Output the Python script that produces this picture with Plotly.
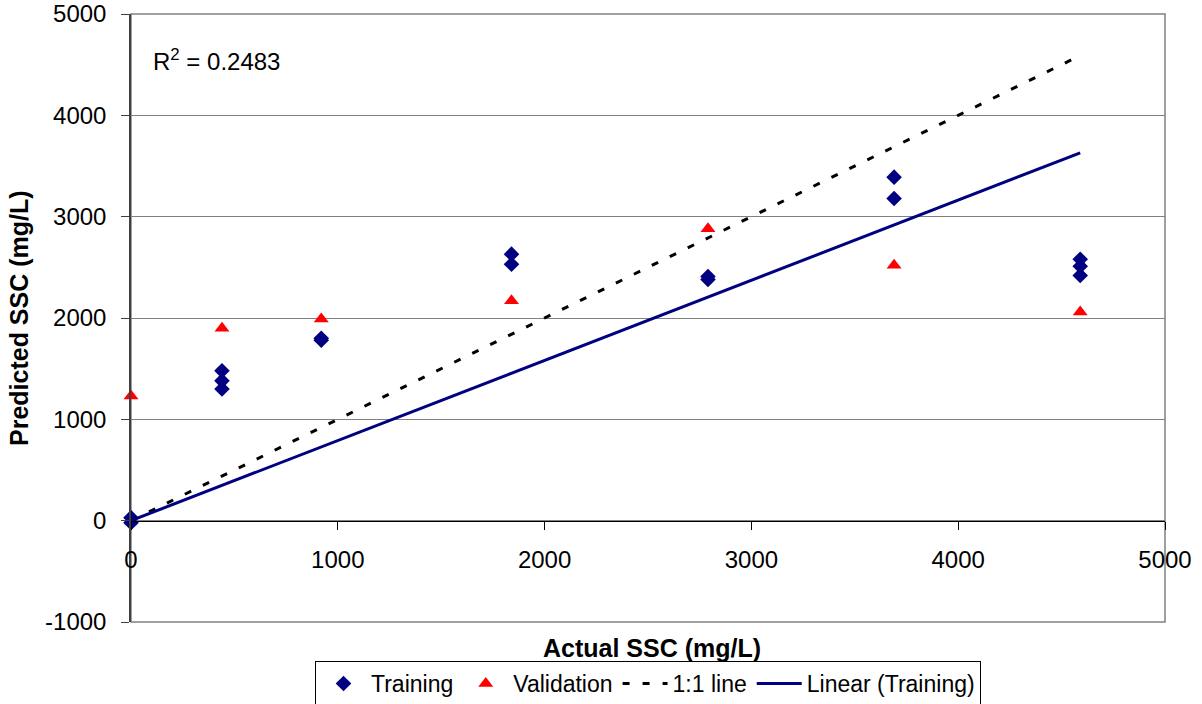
import plotly.graph_objects as go

# ---- data ----
train_x = [0, 0, 440, 440, 440, 920, 920, 1840, 1840, 2790, 2790, 3690, 3690, 4590, 4590, 4590]
train_y = [30, -20, 1480, 1380, 1300, 1800, 1780, 2630, 2530, 2410, 2380, 3390, 3180, 2580, 2510, 2420]

val_x = [0, 440, 920, 1840, 2790, 3690, 4590]
val_y = [1230, 1900, 1990, 2170, 2880, 2520, 2060]

one_x = [0, 4590]
one_y = [0, 4590]

trend_x = [0, 4590]
trend_y = [0, 3630]

x_ticks = [0, 1000, 2000, 3000, 4000, 5000]
y_ticks = [-1000, 0, 1000, 2000, 3000, 4000, 5000]
r2_text = "R<sup>2</sup> = 0.2483"

FONT = "Liberation Sans, Arial, sans-serif"
NAVY = "#000080"

W, H = 1202, 704

fig = go.Figure()
fig.add_trace(go.Scatter(
    x=train_x, y=train_y, mode="markers", name="Training",
    marker=dict(symbol="diamond", size=12, color=NAVY), cliponaxis=False))
fig.add_trace(go.Scatter(
    x=val_x, y=val_y, mode="markers", name="Validation",
    marker=dict(symbol="triangle-up", size=13, color="#FF0000"), cliponaxis=False))
fig.add_trace(go.Scatter(
    x=one_x, y=one_y, mode="lines", name="1:1 line",
    line=dict(color="black", width=3, dash="7px,13px")))
fig.add_trace(go.Scatter(
    x=trend_x, y=trend_y, mode="lines", name="Linear (Training)",
    line=dict(color=NAVY, width=3)))

fig.update_layout(
    width=W, height=H,
    margin=dict(l=131, r=37, t=14, b=82, autoexpand=False),
    paper_bgcolor="white", plot_bgcolor="white",
    font=dict(family=FONT, size=24, color="black"),
    showlegend=True,
    legend=dict(
        orientation="h", xref="paper", x=0.5, xanchor="center",
        yref="container", y=1 - 661 / H, yanchor="top",
        bordercolor="black", borderwidth=1, bgcolor="white",
        font=dict(family=FONT, size=23, color="black"),
        itemwidth=45, tracegroupgap=0),
    xaxis=dict(
        range=[0, 5000], tickvals=x_ticks, ticktext=[str(v) for v in x_ticks],
        anchor="free", position=1/6, automargin=False, ticklabeloverflow="allow",
        showline=True, linecolor="black", linewidth=1,
        ticks="outside", ticklen=8, tickcolor="black",
        showgrid=False, zeroline=False,
        tickfont=dict(size=24), ticklabelstandoff=10),
    yaxis=dict(
        range=[-1000, 5000], tickvals=y_ticks, ticktext=[str(v) for v in y_ticks],
        automargin=False, ticklabeloverflow="allow",
        showline=True, linecolor="#404040", linewidth=1.5,
        ticks="outside", ticklen=8, tickcolor="#404040",
        showgrid=True, gridcolor="#808080", gridwidth=1,
        zeroline=False, tickfont=dict(size=24), ticklabelstandoff=10),
    shapes=[dict(type="rect", xref="paper", yref="paper", x0=0, x1=1, y0=0, y1=1,
                 line=dict(color="#808080", width=1.5), layer="below")],
    annotations=[
        dict(text=r2_text, xref="paper", yref="paper", x=0.0193, y=0.924,
             xanchor="left", yanchor="middle", showarrow=False,
             font=dict(family=FONT, size=24, color="black")),
        dict(text="<b>Actual SSC (mg/L)</b>", xref="paper", yref="paper",
             x=0.504, y=-0.043, xanchor="center", yanchor="middle", showarrow=False,
             font=dict(family=FONT, size=25, color="black")),
        dict(text="<b>Predicted SSC (mg/L)</b>", xref="paper", yref="paper",
             x=(19 - 131) / 1034, y=0.5, xanchor="center", yanchor="middle", showarrow=False,
             textangle=-90, font=dict(family=FONT, size=25, color="black")),
    ],
)

fig.write_html("out.html", config={"displayModeBar": False},
               post_script="document.body.style.margin='0';")
